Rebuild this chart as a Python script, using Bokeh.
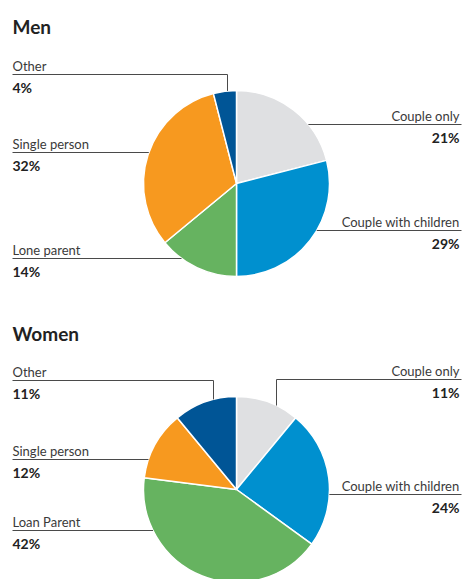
import math
from bokeh.plotting import figure
from bokeh.models import Range1d, ColumnDataSource
from bokeh.core.properties import value
from bokeh.embed import file_html
from bokeh.resources import INLINE

# ---- data ----
men_categories = ["Couple only", "Couple with children", "Lone parent", "Single person", "Other"]
women_categories = ["Couple only", "Couple with children", "Loan Parent", "Single person", "Other"]
men_values = [21, 29, 14, 32, 4]
women_values = [11, 24, 42, 12, 11]
colors = ["#dfe0e2", "#0090cf", "#66b360", "#f7991f", "#005596"]

# ---- layout (pixel coordinates of the 462x579 page) ----
R = 93
FONT = "Lato"
LINE_COLOR = "#4a4a4a"
RIGHT_EDGE = 461
TEXT_RIGHT = 459
TEXT_LEFT = 12

charts = [
    dict(title="Men", title_y=26, cx=236, cy=183, cats=men_categories, vals=men_values,
         labels=[("right", 124, None), ("right", 230, None), ("left", 258, None),
                 ("left", 152, None), ("left", 74, 227)]),
    dict(title="Women", title_y=333, cx=236, cy=489, cats=women_categories, vals=women_values,
         labels=[("right", 379, 276), ("right", 494, None), ("left", 530, None),
                 ("left", 459, None), ("left", 380, 213)]),
]

p = figure(width=462, height=579, x_range=Range1d(0, 462), y_range=Range1d(-579, 0),
           output_backend="svg", toolbar_location=None, min_border=0,
           x_axis_type=None, y_axis_type=None)
p.grid.visible = False
p.outline_line_color = None
p.background_fill_color = "white"

for ch in charts:
    cx, cy = ch["cx"], ch["cy"]
    total = sum(ch["vals"])
    starts, ends, acc = [], [], 0
    for v in ch["vals"]:
        starts.append(math.pi / 2 - 2 * math.pi * acc / total)
        acc += v
        ends.append(math.pi / 2 - 2 * math.pi * acc / total)
    src = ColumnDataSource(dict(start=starts, end=ends, color=colors))
    p.wedge(x=cx, y=-cy, radius=R, start_angle="start", end_angle="end", direction="clock",
            fill_color="color", line_color="white", line_width=1.5, source=src)

    # title
    p.text(x=[TEXT_LEFT], y=[-ch["title_y"]], text=[ch["title"]], text_font=value(FONT),
           text_font_style="bold", text_font_size="19px", text_color="#222222",
           text_baseline="alphabetic", text_align="left")

    xs, ys = [], []
    nx, ny, nt, na = [], [], [], []
    px_, py_, pt, pa = [], [], [], []
    for (side, ly, vx), cat, v in zip(ch["labels"], ch["cats"], ch["vals"]):
        if vx is not None:
            edge_y = cy - math.sqrt(R * R - (vx - cx) ** 2)
            if side == "left":
                xs.append([TEXT_LEFT, vx, vx]); ys.append([-ly, -ly, -edge_y])
            else:
                xs.append([RIGHT_EDGE, vx, vx]); ys.append([-ly, -ly, -edge_y])
        else:
            dx = math.sqrt(R * R - (ly - cy) ** 2)
            if side == "left":
                xs.append([TEXT_LEFT, cx - dx]); ys.append([-ly, -ly])
            else:
                xs.append([cx + dx, RIGHT_EDGE]); ys.append([-ly, -ly])
        tx = TEXT_LEFT if side == "left" else TEXT_RIGHT
        al = "left" if side == "left" else "right"
        nx.append(tx); ny.append(-(ly - 1)); nt.append(cat); na.append(al)
        px_.append(tx); py_.append(-(ly + 4)); pt.append(f"{v}%"); pa.append(al)

    p.multi_line(xs=xs, ys=ys, line_color=LINE_COLOR, line_width=1)
    p.text(x="x", y="y", text="t", text_align="a",
           source=ColumnDataSource(dict(x=nx, y=ny, t=nt, a=na)),
           text_font=value(FONT), text_font_size="13px", text_color="#3a3a3a",
           text_baseline="bottom")
    p.text(x="x", y="y", text="t", text_align="a",
           source=ColumnDataSource(dict(x=px_, y=py_, t=pt, a=pa)),
           text_font=value(FONT), text_font_style="bold", text_font_size="14px",
           text_color="#222222", text_baseline="top")

open("out.html", "w").write(file_html(p, INLINE))
